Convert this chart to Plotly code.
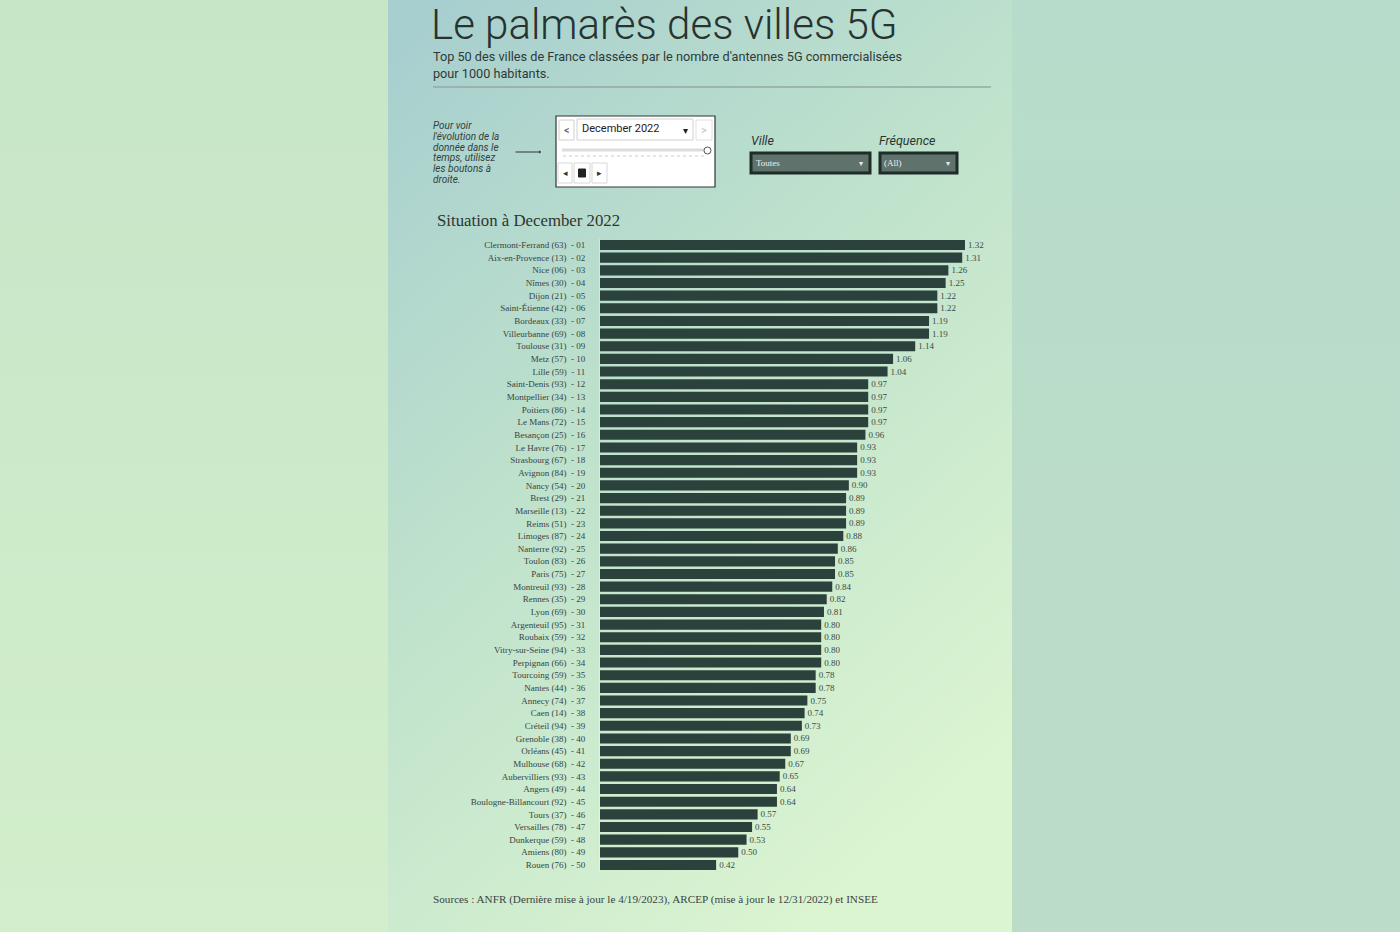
import base64
import plotly.graph_objects as go

# ---------------- data ----------------
cities = ["Clermont-Ferrand", "Aix-en-Provence", "Nice", "Nîmes", "Dijon", "Saint-Étienne",
          "Bordeaux", "Villeurbanne", "Toulouse", "Metz", "Lille", "Saint-Denis", "Montpellier",
          "Poitiers", "Le Mans", "Besançon", "Le Havre", "Strasbourg", "Avignon", "Nancy",
          "Brest", "Marseille", "Reims", "Limoges", "Nanterre", "Toulon", "Paris", "Montreuil",
          "Rennes", "Lyon", "Argenteuil", "Roubaix", "Vitry-sur-Seine", "Perpignan", "Tourcoing",
          "Nantes", "Annecy", "Caen", "Créteil", "Grenoble", "Orléans", "Mulhouse",
          "Aubervilliers", "Angers", "Boulogne-Billancourt", "Tours", "Versailles", "Dunkerque",
          "Amiens", "Rouen"]
depts = ["63", "13", "06", "30", "21", "42", "33", "69", "31", "57", "59", "93", "34", "86", "72",
         "25", "76", "67", "84", "54", "29", "13", "51", "87", "92", "83", "75", "93", "35", "69",
         "95", "59", "94", "66", "59", "44", "74", "14", "94", "38", "45", "68", "93", "49", "92",
         "37", "78", "59", "80", "76"]
antennas_per_1000 = [1.32, 1.31, 1.26, 1.25, 1.22, 1.22, 1.19, 1.19, 1.14, 1.06, 1.04, 0.97, 0.97,
                     0.97, 0.97, 0.96, 0.93, 0.93, 0.93, 0.90, 0.89, 0.89, 0.89, 0.88, 0.86, 0.85,
                     0.85, 0.84, 0.82, 0.81, 0.80, 0.80, 0.80, 0.80, 0.78, 0.78, 0.75, 0.74, 0.73,
                     0.69, 0.69, 0.67, 0.65, 0.64, 0.64, 0.57, 0.55, 0.53, 0.50, 0.42]
ranks = [f"{i:02d}" for i in range(1, len(cities) + 1)]
labels = [f"{c} ({d})  - {r}" for c, d, r in zip(cities, depts, ranks)]
instruction_lines = ["Pour voir", "l'évolution de la", "donnée dans le", "temps, utilisez",
                     "les boutons à", "droite."]

W, H = 1400, 932
def X(px): return px / W
def Y(py): return 1 - py / H

BAR = "#2a413c"
DARK = "#283834"

fig = go.Figure()
fig.add_trace(go.Bar(
    x=antennas_per_1000, y=labels, orientation="h",
    marker=dict(color=BAR, line=dict(width=0)),
    text=[f"{v:.2f}" for v in antennas_per_1000], textposition="outside",
    textfont=dict(family="Liberation Serif", size=9, color="#3c4a46"),
    cliponaxis=False, hoverinfo="x+y",
))

# background gradient panel as an SVG image
svg = f"""<svg xmlns='http://www.w3.org/2000/svg' width='{W}' height='{H}' viewBox='0 0 {W} {H}' preserveAspectRatio='none'>
<defs>
<linearGradient id='p' x1='0.1' y1='0' x2='0.7' y2='1'>
<stop offset='0' stop-color='#a8cfcf'/><stop offset='0.45' stop-color='#bfe2cc'/><stop offset='1' stop-color='#dcf5d1'/>
</linearGradient>
<linearGradient id='l' x1='0' y1='0' x2='0' y2='1'>
<stop offset='0' stop-color='#c7e6c8'/><stop offset='1' stop-color='#d2eecb'/>
</linearGradient>
<linearGradient id='r' x1='0' y1='0' x2='0' y2='1'>
<stop offset='0' stop-color='#b8dccb'/><stop offset='1' stop-color='#bcdcc8'/>
</linearGradient>
</defs>
<rect x='0' y='0' width='388' height='{H}' fill='url(#l)'/>
<rect x='1012' y='0' width='388' height='{H}' fill='url(#r)'/>
<rect x='388' y='0' width='624' height='{H}' fill='url(#p)'/>
</svg>"""
src = "data:image/svg+xml;base64," + base64.b64encode(svg.encode()).decode()

shapes = []
annotations = []

def rect(x0, y0, x1, y1, fill=None, line="#000", lw=1):
    shapes.append(dict(type="rect", xref="paper", yref="paper", x0=X(x0), x1=X(x1), y0=Y(y1), y1=Y(y0),
                       fillcolor=fill if fill else "rgba(0,0,0,0)", line=dict(color=line, width=lw), layer="above"))

def text(x, y, s, size, color=DARK, family="Roboto", xanchor="left", yanchor="middle", **kw):
    if xanchor == "left":
        x -= 2
    annotations.append(dict(x=X(x), y=Y(y), xref="paper", yref="paper", text=s, showarrow=False,
                            xanchor=xanchor, yanchor=yanchor, align="left",
                            font=dict(family=family, size=size, color=color, **kw)))

# title block
text(431, 24.5, "Le palmarès des villes 5G", 42, color="#26332f", family="Roboto", weight=300)
text(433, 65, "Top 50 des villes de France classées par le nombre d'antennes 5G commercialisées<br>pour 1000 habitants.",
     12.7, color="#2e3a37", family="Roboto")
shapes.append(dict(type="line", xref="paper", yref="paper", x0=X(433), x1=X(991), y0=Y(87), y1=Y(87),
                   line=dict(color="#93aaa2", width=1.5)))

# instructions
for i, ln in enumerate(instruction_lines):
    text(433, 125.5 + i * 10.8, f"<i>{ln}</i>", 10, color="#33403c", family="Roboto")
annotations.append(dict(x=X(541), y=Y(152), ax=-27, ay=0, xref="paper", yref="paper",
                        text="", showarrow=True, arrowhead=1,
                        arrowsize=0.6, arrowwidth=1, arrowcolor="#333"))

# date widget
rect(556, 116, 715, 187, fill="#ffffff", line="#2c3935", lw=1.2)
rect(559, 120, 574, 140, fill="#ffffff", line="#d0d0d0")
text(566.5, 130, "<", 11, color="#555", xanchor="center")
rect(577, 119, 693, 140, fill="#ffffff", line="#d0d0d0")
text(582, 129, "December 2022", 11, color="#222")
text(685, 130, "▾", 10, color="#222", xanchor="center")
rect(696, 120, 712, 140, fill="#ffffff", line="#e0e0e0")
text(704, 130, ">", 11, color="#bbb", xanchor="center")
shapes.append(dict(type="line", xref="paper", yref="paper", x0=X(562), x1=X(704), y0=Y(150), y1=Y(150),
                   line=dict(color="#dcdcdc", width=3)))
shapes.append(dict(type="circle", xref="paper", yref="paper", x0=X(704), x1=X(711), y0=Y(154), y1=Y(147),
                   fillcolor="#ffffff", line=dict(color="#555", width=1)))
shapes.append(dict(type="line", xref="paper", yref="paper", x0=X(563), x1=X(706), y0=Y(156), y1=Y(156),
                   line=dict(color="#e4e4e4", width=2, dash="dot")))
rect(558, 163, 572, 183, fill="#ffffff", line="#d8d8d8")
text(565, 173, "◂", 9, color="#333", xanchor="center")
rect(574, 163, 590, 183, fill="#ffffff", line="#d8d8d8")
rect(578.5, 169, 585.5, 177, fill="#222", line="#222")
rect(592, 163, 607, 183, fill="#ffffff", line="#d8d8d8")
text(599.5, 173, "▸", 9, color="#333", xanchor="center")

# filter dropdowns
text(751, 140, "<i>Ville</i>", 12.5, color="#2a3632")
rect(751, 153, 870, 173, fill="#5f726c", line="#1f2d29", lw=3)
text(756, 163, "Toutes", 9, color="#f0f0f0", family="Liberation Serif")
text(861, 163, "▾", 8, color="#e8e8e8", xanchor="center")
text(879, 140, "<i>Fréquence</i>", 12.5, color="#2a3632")
rect(880, 153, 957, 173, fill="#5f726c", line="#1f2d29", lw=3)
text(884, 163, "(All)", 9, color="#f0f0f0", family="Liberation Serif")
text(948, 163, "▾", 8, color="#e8e8e8", xanchor="center")

# chart title and source
text(437, 220, "Situation à December 2022", 16.8, color="#2e3532", family="Liberation Serif")
text(433, 899, "Sources : ANFR (Dernière mise à jour le 4/19/2023), ARCEP (mise à jour le 12/31/2022) et INSEE",
     11.2, color="#3a4440", family="Liberation Serif")

px_per_unit = 276.5
x_left, x_right = 600, 1000
fig.update_layout(
    width=W, height=H, margin=dict(l=0, r=0, t=0, b=0),
    paper_bgcolor="#c4e3cc", plot_bgcolor="rgba(0,0,0,0)",
    showlegend=False, bargap=0.2,
    images=[dict(source=src, xref="paper", yref="paper", x=0, y=1, sizex=1, sizey=1,
                 xanchor="left", yanchor="top", sizing="stretch", layer="below")],
    xaxis=dict(domain=[X(x_left), X(x_right)], range=[0, (x_right - x_left) / px_per_unit],
               visible=False, fixedrange=True),
    yaxis=dict(domain=[Y(871.3), Y(238.7)], autorange="reversed", showgrid=False, zeroline=False,
               showline=True, linecolor="rgba(255,255,255,0.35)", linewidth=1,
               ticks="", ticklabelstandoff=12,
               tickfont=dict(family="Liberation Serif", size=9, color="#38443f")),
    shapes=shapes, annotations=annotations,
)
fig.write_html("out.html")
